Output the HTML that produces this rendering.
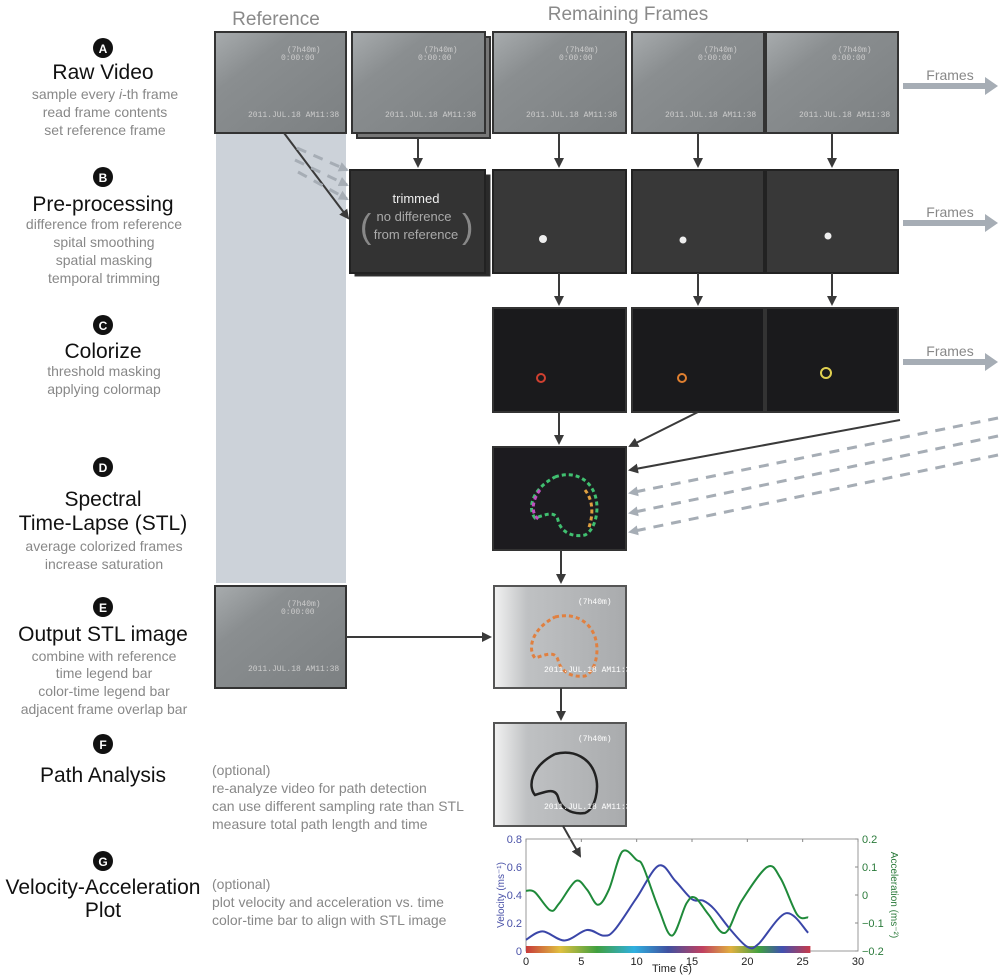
<!DOCTYPE html>
<html><head><meta charset="utf-8">
<style>
body{margin:0;background:#fff;width:1000px;height:976px;overflow:hidden;font-family:"Liberation Sans",sans-serif}
svg{display:block}
.t{font-family:"Liberation Sans",sans-serif}
</style></head><body>
<svg id="s" width="1000" height="976" viewBox="0 0 1000 976" xmlns="http://www.w3.org/2000/svg">
<defs>
<linearGradient id="raw" x1="0" y1="0" x2="1" y2="1"><stop offset="0" stop-color="#a8acae"/><stop offset=".3" stop-color="#8a8e90"/><stop offset="1" stop-color="#7c8082"/></linearGradient>
<linearGradient id="lite" x1="0" y1="0" x2="1" y2="0"><stop offset="0" stop-color="#f2f2f2"/><stop offset=".25" stop-color="#bfc1c3"/><stop offset="1" stop-color="#a9abad"/></linearGradient>
<marker id="ah" markerUnits="userSpaceOnUse" markerWidth="10" markerHeight="10" refX="8" refY="5" orient="auto"><path d="M0,0 L10,5 L0,10 z" fill="#3a3a3a"/></marker>
<marker id="ahg" markerUnits="userSpaceOnUse" markerWidth="10" markerHeight="10" refX="8" refY="5" orient="auto"><path d="M0,0 L10,5 L0,10 z" fill="#a6adb5"/></marker>
<linearGradient id="cbar" x1="0" x2="1"><stop offset="0" stop-color="#c83a3a"/><stop offset=".12" stop-color="#e0c040"/><stop offset=".25" stop-color="#40a040"/><stop offset=".38" stop-color="#30b0e0"/><stop offset=".5" stop-color="#4050a0"/><stop offset=".62" stop-color="#c04060"/><stop offset=".72" stop-color="#e0b040"/><stop offset=".82" stop-color="#40a040"/><stop offset=".9" stop-color="#4050b0"/><stop offset="1" stop-color="#c83a4a"/></linearGradient>
</defs>

<text class="t" x="276" y="25" font-size="19" fill="#8a8a8a" text-anchor="middle">Reference</text>
<text class="t" x="628" y="20" font-size="19" fill="#8a8a8a" text-anchor="middle">Remaining Frames</text>

<rect x="216" y="133" width="130" height="450" fill="#ccd2d9"/>

<g>
<rect x="215" y="32" width="131" height="101" fill="url(#raw)" stroke="#333" stroke-width="2"/>
<rect x="357" y="37" width="133" height="101" fill="#777" stroke="#333" stroke-width="2"/>
<rect x="352" y="32" width="133" height="101" fill="url(#raw)" stroke="#333" stroke-width="2"/>
<rect x="493" y="32" width="133" height="101" fill="url(#raw)" stroke="#333" stroke-width="2"/>
<rect x="632" y="32" width="132" height="101" fill="url(#raw)" stroke="#333" stroke-width="2"/>
<rect x="766" y="32" width="132" height="101" fill="url(#raw)" stroke="#333" stroke-width="2"/>
<g font-family="Liberation Mono,monospace" font-size="8" fill="#ccc">
<text x="287" y="52">(7h40m)</text><text x="281" y="60">0:00:00</text><text x="248" y="117">2011.JUL.18 AM11:38</text>
<text x="424" y="52">(7h40m)</text><text x="418" y="60">0:00:00</text><text x="385" y="117">2011.JUL.18 AM11:38</text>
<text x="565" y="52">(7h40m)</text><text x="559" y="60">0:00:00</text><text x="526" y="117">2011.JUL.18 AM11:38</text>
<text x="704" y="52">(7h40m)</text><text x="698" y="60">0:00:00</text><text x="665" y="117">2011.JUL.18 AM11:38</text>
<text x="838" y="52">(7h40m)</text><text x="832" y="60">0:00:00</text><text x="799" y="117">2011.JUL.18 AM11:38</text>
</g>
</g>

<g>
<rect x="355" y="175" width="135" height="101" fill="#2a2a2a" stroke="#333"/>
<rect x="350" y="170" width="135" height="103" fill="#333" stroke="#222" stroke-width="2"/>
<text class="t" x="416" y="203" font-size="13" fill="#eee" text-anchor="middle">trimmed</text>
<text class="t" x="414" y="221" font-size="13" fill="#aaa" text-anchor="middle">no difference</text>
<text class="t" x="416" y="239" font-size="13" fill="#aaa" text-anchor="middle">from reference</text>
<text class="t" x="360" y="238" font-size="34" fill="#888">(</text>
<text class="t" x="462" y="238" font-size="34" fill="#888">)</text>
<rect x="493" y="170" width="133" height="103" fill="#383838" stroke="#222" stroke-width="2"/>
<rect x="632" y="170" width="132" height="103" fill="#383838" stroke="#222" stroke-width="2"/>
<rect x="766" y="170" width="132" height="103" fill="#383838" stroke="#222" stroke-width="2"/>
<circle cx="543" cy="239" r="4" fill="#eee"/><circle cx="683" cy="240" r="3.5" fill="#eee"/><circle cx="828" cy="236" r="3.5" fill="#eee"/>
</g>

<g>
<rect x="493" y="308" width="133" height="104" fill="#1a1a1c" stroke="#333" stroke-width="2"/>
<rect x="632" y="308" width="132" height="104" fill="#1a1a1c" stroke="#333" stroke-width="2"/>
<rect x="766" y="308" width="132" height="104" fill="#1a1a1c" stroke="#333" stroke-width="2"/>
<circle cx="541" cy="378" r="4" fill="none" stroke="#d04030" stroke-width="2"/>
<circle cx="682" cy="378" r="4" fill="none" stroke="#e08030" stroke-width="2"/>
<circle cx="826" cy="373" r="5" fill="none" stroke="#e0d050" stroke-width="2"/>
</g>

<g>
<rect x="493" y="447" width="133" height="103" fill="#1c1b1f" stroke="#333" stroke-width="2"/>
<path d="M555,477 C575,470 590,480 595,495 C600,510 595,530 585,535 C570,538 560,530 558,520 C555,510 545,515 535,518 C528,510 530,490 555,477" fill="none" stroke="#40c070" stroke-width="3" stroke-dasharray="4 3"/>
<path d="M585,490 C593,500 594,515 588,530" fill="none" stroke="#e0a040" stroke-width="3" stroke-dasharray="4 3"/>
<path d="M540,490 C532,500 530,515 540,520" fill="none" stroke="#c050c0" stroke-width="3" stroke-dasharray="4 3"/>
</g>

<g>
<rect x="215" y="586" width="131" height="102" fill="url(#raw)" stroke="#333" stroke-width="2"/>
<g font-family="Liberation Mono,monospace" font-size="8" fill="#ccc"><text x="287" y="606">(7h40m)</text><text x="281" y="614">0:00:00</text><text x="248" y="671">2011.JUL.18 AM11:38</text></g>
<rect x="494" y="586" width="132" height="102" fill="url(#lite)" stroke="#555" stroke-width="2"/>
<path d="M555,617 C575,612 590,622 595,637 C600,652 595,672 585,676 C570,678 560,670 558,660 C555,650 545,655 535,658 C528,650 530,630 555,617" fill="none" stroke="#e08040" stroke-width="3" stroke-dasharray="4 3"/>
<g font-family="Liberation Mono,monospace" font-size="8" fill="#fff"><text x="578" y="604">(7h40m)</text><text x="544" y="672">2011.JUL.18 AM11:38</text></g>
</g>

<g>
<rect x="494" y="723" width="132" height="103" fill="url(#lite)" stroke="#555" stroke-width="2"/>
<path d="M555,754 C575,749 590,759 595,774 C600,789 595,809 585,813 C570,815 560,807 558,797 C555,787 545,792 535,795 C528,787 530,767 555,754" fill="none" stroke="#222" stroke-width="2.5"/>
<g font-family="Liberation Mono,monospace" font-size="8" fill="#fff"><text x="578" y="741">(7h40m)</text><text x="544" y="809">2011.JUL.18 AM11:38</text></g>
</g>

<g stroke="#3a3a3a" stroke-width="2" fill="none">
<line x1="418" y1="138" x2="418" y2="166" marker-end="url(#ah)"/>
<line x1="559" y1="133" x2="559" y2="166" marker-end="url(#ah)"/>
<line x1="698" y1="133" x2="698" y2="166" marker-end="url(#ah)"/>
<line x1="832" y1="133" x2="832" y2="166" marker-end="url(#ah)"/>
<line x1="559" y1="273" x2="559" y2="304" marker-end="url(#ah)"/>
<line x1="698" y1="273" x2="698" y2="304" marker-end="url(#ah)"/>
<line x1="832" y1="273" x2="832" y2="304" marker-end="url(#ah)"/>
<line x1="284" y1="133" x2="348" y2="218" marker-end="url(#ah)"/>
<line x1="559" y1="412" x2="559" y2="443" marker-end="url(#ah)"/>
<line x1="698" y1="412" x2="630" y2="446" marker-end="url(#ah)"/>
<line x1="900" y1="420" x2="630" y2="470" marker-end="url(#ah)"/>
<line x1="561" y1="550" x2="561" y2="582" marker-end="url(#ah)"/>
<line x1="346" y1="637" x2="490" y2="637" marker-end="url(#ah)"/>
<line x1="561" y1="688" x2="561" y2="719" marker-end="url(#ah)"/>
<line x1="563" y1="826" x2="580" y2="856" marker-end="url(#ah)"/>
</g>
<g stroke="#a6adb5" stroke-width="3" stroke-dasharray="10 8" fill="none">
<line x1="297" y1="148" x2="347" y2="170" marker-end="url(#ahg)"/>
<line x1="295" y1="160" x2="347" y2="185" marker-end="url(#ahg)"/>
<line x1="298" y1="172" x2="347" y2="199" marker-end="url(#ahg)"/>
<line x1="998" y1="418" x2="630" y2="493" marker-end="url(#ahg)"/>
<line x1="998" y1="436" x2="630" y2="513" marker-end="url(#ahg)"/>
<line x1="998" y1="455" x2="630" y2="532" marker-end="url(#ahg)"/>
</g>
<g>
<text class="t" x="950" y="80" font-size="14" fill="#888" text-anchor="middle">Frames</text>
<path d="M903,83 h82 v-6 l13,9 l-13,9 v-6 h-82z" fill="#a6adb5"/>
<text class="t" x="950" y="217" font-size="14" fill="#888" text-anchor="middle">Frames</text>
<path d="M903,220 h82 v-6 l13,9 l-13,9 v-6 h-82z" fill="#a6adb5"/>
<text class="t" x="950" y="356" font-size="14" fill="#888" text-anchor="middle">Frames</text>
<path d="M903,359 h82 v-6 l13,9 l-13,9 v-6 h-82z" fill="#a6adb5"/>
</g>

<g class="t" text-anchor="middle">
<g><circle cx="103" cy="48" r="10" fill="#111"/><text x="103" y="53" font-size="12" font-weight="bold" fill="#fff">A</text>
<text x="103" y="79" font-size="21" fill="#111">Raw Video</text>
<g font-size="14" fill="#888"><text x="105" y="99">sample every <tspan font-style="italic">i</tspan>-th frame</text><text x="105" y="117">read frame contents</text><text x="105" y="135">set reference frame</text></g></g>
<g><circle cx="103" cy="177" r="10" fill="#111"/><text x="103" y="182" font-size="12" font-weight="bold" fill="#fff">B</text>
<text x="103" y="211" font-size="21" fill="#111">Pre-processing</text>
<g font-size="14" fill="#888"><text x="104" y="229">difference from reference</text><text x="104" y="247">spital smoothing</text><text x="104" y="265">spatial masking</text><text x="104" y="283">temporal trimming</text></g></g>
<g><circle cx="103" cy="325" r="10" fill="#111"/><text x="103" y="330" font-size="12" font-weight="bold" fill="#fff">C</text>
<text x="103" y="358" font-size="21" fill="#111">Colorize</text>
<g font-size="14" fill="#888"><text x="104" y="376">threshold masking</text><text x="104" y="394">applying colormap</text></g></g>
<g><circle cx="103" cy="467" r="10" fill="#111"/><text x="103" y="472" font-size="12" font-weight="bold" fill="#fff">D</text>
<text x="103" y="506" font-size="21" fill="#111">Spectral</text><text x="103" y="530" font-size="21" fill="#111">Time-Lapse (STL)</text>
<g font-size="14" fill="#888"><text x="104" y="551">average colorized frames</text><text x="104" y="569">increase saturation</text></g></g>
<g><circle cx="103" cy="607" r="10" fill="#111"/><text x="103" y="612" font-size="12" font-weight="bold" fill="#fff">E</text>
<text x="103" y="641" font-size="21" fill="#111">Output STL image</text>
<g font-size="14" fill="#888"><text x="104" y="661">combine with reference</text><text x="104" y="678">time legend bar</text><text x="104" y="696">color-time legend bar</text><text x="104" y="714">adjacent frame overlap bar</text></g></g>
<g><circle cx="103" cy="744" r="10" fill="#111"/><text x="103" y="749" font-size="12" font-weight="bold" fill="#fff">F</text>
<text x="103" y="782" font-size="21" fill="#111">Path Analysis</text></g>
<g><circle cx="103" cy="861" r="10" fill="#111"/><text x="103" y="866" font-size="12" font-weight="bold" fill="#fff">G</text>
<text x="103" y="894" font-size="21" fill="#111">Velocity-Acceleration</text><text x="103" y="917" font-size="21" fill="#111">Plot</text></g>
</g>
<g class="t" font-size="14" fill="#888">
<text x="212" y="775">(optional)</text><text x="212" y="793">re-analyze video for path detection</text><text x="212" y="811">can use different sampling rate than STL</text><text x="212" y="829">measure total path length and time</text>
<text x="212" y="889">(optional)</text><text x="212" y="907">plot velocity and acceleration vs. time</text><text x="212" y="925">color-time bar to align with STL image</text>
</g>

<g id="chart"></g>
</svg>
<script>
const timeTicks=[0,5,10,15,20,25,30];
const velTicks=[0,0.2,0.4,0.6,0.8];
const accTicks=[-0.2,-0.1,0,0.1,0.2];
const velTimes=[0,1.5,3.5,5.5,7,8,10,12,13.5,15,16,17,18.5,20,21,23.5,25.5];
const velValues=[0.08,0.14,0.075,0.15,0.11,0.15,0.38,0.61,0.5,0.37,0.36,0.3,0.15,0.03,0.05,0.27,0.13];
const accTimes=[0,0.8,2.2,3,4.5,5.5,6.5,7.5,8.7,10,10.6,12,13.2,14.5,15.3,16.5,18,19.5,21.8,23,24.5,25.5];
const accValues=[0.015,0.01,-0.055,-0.03,0.05,0.02,-0.035,0.02,0.155,0.125,0.1,-0.05,-0.145,-0.03,-0.01,-0.07,-0.135,-0.02,0.1,0.06,-0.07,-0.08];
const NS='http://www.w3.org/2000/svg';
const g=document.getElementById('chart');
const X0=526,X1=858,YT=839,YB=951;
const xs=t=>X0+(t-0)/(30-0)*(X1-X0);
const yv=v=>YB-(v-0)/(0.8-0)*(YB-YT);
const ya=a=>YB-(a+0.2)/(0.4)*(YB-YT);
function el(tag,at,parent){const e=document.createElementNS(NS,tag);for(const k in at)e.setAttribute(k,at[k]);(parent||g).appendChild(e);return e;}
const frame=el('rect',{x:X0,y:YT,width:X1-X0,height:YB-YT,fill:'none',stroke:'#999','stroke-width':1});


const cb=el('rect',{x:xs(0),y:YB-5,width:xs(25.7)-xs(0),height:7,fill:'url(#cbar)'});


timeTicks.forEach(t=>{
  const tx=el('text',{x:xs(t),y:YB+14,'font-size':11,'text-anchor':'middle',fill:'#222','font-family':'Liberation Sans,sans-serif'});tx.textContent=t;
  
  
  el('line',{x1:xs(t),x2:xs(t),y1:YT,y2:YT+3,stroke:'#888'});
});
velTicks.forEach(v=>{
  const tx=el('text',{x:X0-4,y:yv(v)+4,'font-size':11,'text-anchor':'end',fill:'#4a52a8','font-family':'Liberation Sans,sans-serif'});tx.textContent=v;
  
  
});
accTicks.forEach(a=>{
  const tx=el('text',{x:X1+4,y:ya(a)+4,'font-size':11,fill:'#2a7a3a','font-family':'Liberation Sans,sans-serif'});tx.textContent=(a<0?'\u2212'+(-a):a);
  
  
  el('line',{x1:X1-3,x2:X1,y1:ya(a),y2:ya(a),stroke:'#888'});
});
const xt=el('text',{x:(X0+X1)/2-20,y:972,'font-size':11,'text-anchor':'middle',fill:'#222','font-family':'Liberation Sans,sans-serif'});xt.textContent='Time (s)';


const vt=el('text',{x:0,y:0,'font-size':10,'text-anchor':'middle',fill:'#4a52a8',transform:`translate(504,${(YT+YB)/2}) rotate(-90)`,'font-family':'Liberation Sans,sans-serif'});vt.textContent='Velocity (ms\u207B\u00B9)';


const at=el('text',{x:0,y:0,'font-size':10,'text-anchor':'middle',fill:'#2a7a3a',transform:`translate(891,${(YT+YB)/2}) rotate(90)`,'font-family':'Liberation Sans,sans-serif'});at.textContent='Acceleration (ms\u207B\u00B2)';


function smooth(P){let d=`M${P[0][0]},${P[0][1]}`;for(let i=0;i<P.length-1;i++){const p0=P[i-1]||P[i],p1=P[i],p2=P[i+1],p3=P[i+2]||p2;
 d+=` C${p1[0]+(p2[0]-p0[0])/6},${p1[1]+(p2[1]-p0[1])/6} ${p2[0]-(p3[0]-p1[0])/6},${p2[1]-(p3[1]-p1[1])/6} ${p2[0]},${p2[1]}`;}return d;}
const vp=el('path',{d:smooth(velTimes.map((t,i)=>[xs(t),yv(velValues[i])])),fill:'none',stroke:'#3a46a8','stroke-width':2});


const ap=el('path',{d:smooth(accTimes.map((t,i)=>[xs(t),ya(accValues[i])])),fill:'none',stroke:'#1f8a3a','stroke-width':2});


</script>
</body></html>
